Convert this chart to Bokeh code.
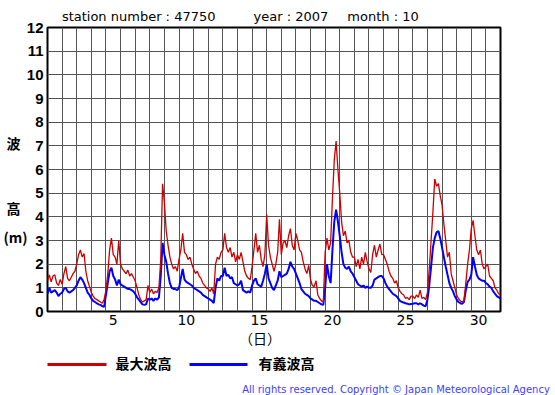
from bokeh.plotting import figure
from bokeh.models import FixedTicker, Range1d, LinearAxis
from bokeh.embed import file_html
from bokeh.resources import INLINE

# ---- data: 3-hourly values, October 2007, station 47750 ----
step_hours = 3
max_wave = [
    1.3, 1.55, 1.25, 1.5, 1.55, 1.2, 1.1, 1.35,      # day 1
    1.15, 1.6, 1.9, 1.4, 1.3, 1.45, 1.6, 1.7,        # day 2
    2.0, 2.4, 2.6, 2.3, 2.45, 1.7, 1.3, 1.05,        # day 3
    0.8, 0.65, 0.55, 0.5, 0.45, 0.4, 0.35, 0.5,      # day 4
    0.9, 1.6, 2.6, 3.1, 2.4, 2.3, 2.0, 3.0,          # day 5
    2.0, 1.8, 1.7, 1.6, 1.75, 1.5, 1.6, 1.45,        # day 6
    1.3, 1.0, 0.7, 0.5, 0.4, 0.45, 0.5, 1.1,         # day 7
    0.8, 0.95, 0.75, 0.85, 0.8, 1.0, 2.2, 5.4,       # day 8
    4.6, 3.4, 2.8, 2.3, 2.0, 1.8, 1.9, 1.7,          # day 9
    2.2, 2.6, 3.3, 2.5, 2.4, 2.2, 2.3, 2.0,          # day 10
    1.8, 1.6, 1.7, 1.5, 1.4, 1.2, 1.1, 1.0,          # day 11
    0.95, 0.85, 1.0, 0.75, 2.0, 2.3, 2.2, 2.5,       # day 12
    2.6, 3.3, 2.7, 2.5, 2.7, 2.3, 2.5, 2.1,          # day 13
    2.4, 2.2, 2.5, 2.1, 1.7, 1.5, 1.4, 1.35,         # day 14
    1.9, 2.6, 3.3, 2.5, 2.8, 2.2, 1.9, 2.4,          # day 15
    4.1, 2.8, 2.3, 2.0, 1.7, 2.0, 2.5, 3.9,          # day 16
    2.4, 2.9, 3.0, 2.7, 3.2, 3.5, 2.8, 2.6,          # day 17
    3.3, 3.0, 2.6, 2.5, 2.1, 1.8, 1.6, 1.95,         # day 18
    1.35, 1.1, 1.05, 1.3, 0.7, 0.55, 0.45, 0.4,      # day 19
    2.5, 3.1, 2.6, 2.9, 4.8, 6.4, 7.2, 6.0,          # day 20
    5.0, 3.8, 3.2, 3.4, 2.9, 3.0, 2.5, 2.3,          # day 21
    2.3, 1.9, 2.2, 1.8, 2.3, 2.0, 2.5, 2.1,          # day 22
    1.8, 1.65, 2.4, 2.8, 2.3, 2.6, 2.85, 2.4,        # day 23
    2.4, 2.2, 2.0, 1.7, 1.5, 1.4, 1.2, 1.3,          # day 24
    1.0, 0.85, 0.75, 0.7, 0.55, 0.6, 0.5, 0.65,      # day 25
    0.65, 0.55, 0.7, 0.6, 0.9, 0.55, 0.6, 0.5,       # day 26
    0.8, 1.8, 3.0, 4.2, 5.6, 5.3, 5.4, 4.9,          # day 27
    4.5, 3.7, 3.0, 2.3, 2.5, 1.6, 1.3, 1.0,          # day 28
    0.7, 0.55, 0.45, 0.4, 0.45, 1.2, 2.0, 2.6,       # day 29
    3.5, 3.85, 3.2, 2.6, 2.4, 2.6, 2.0, 1.8,         # day 30
    1.9, 2.0, 1.5, 1.4, 1.3, 1.0, 0.9, 0.75,         # day 31
    0.7,
]
sig_wave = [
    0.75, 1.0, 0.8, 0.85, 0.9, 0.8, 0.65, 0.75,      # day 1
    0.8, 0.95, 1.0, 0.85, 0.8, 0.85, 0.9, 1.0,       # day 2
    1.1, 1.3, 1.45, 1.35, 1.2, 1.0, 0.8, 0.7,        # day 3
    0.55, 0.45, 0.4, 0.35, 0.3, 0.28, 0.22, 0.2,     # day 4
    0.7, 1.2, 1.7, 1.85, 1.5, 1.35, 1.1, 1.35,       # day 5
    1.15, 1.1, 1.05, 1.0, 0.95, 0.95, 0.9, 0.85,     # day 6
    0.75, 0.6, 0.5, 0.4, 0.3, 0.28, 0.3, 0.55,       # day 7
    0.5, 0.55, 0.45, 0.55, 0.5, 0.6, 1.5, 2.9,       # day 8
    2.4, 2.1, 1.6, 1.2, 1.0, 0.95, 0.95, 0.9,        # day 9
    1.0, 1.4, 1.8, 1.35, 1.25, 1.2, 1.15, 1.1,       # day 10
    1.0, 0.95, 0.9, 0.85, 0.8, 0.7, 0.65, 0.6,       # day 11
    0.55, 0.5, 0.45, 0.35, 1.0, 1.4, 1.3, 1.5,       # day 12
    1.5, 1.85, 1.5, 1.55, 1.4, 1.45, 1.2, 1.15,      # day 13
    1.1, 1.15, 1.3, 0.9, 0.85, 0.8, 0.85, 0.8,       # day 14
    1.1, 1.3, 1.4, 1.15, 1.1, 1.05, 1.3, 1.6,        # day 15
    2.0, 1.4, 1.2, 1.0, 0.9, 1.1, 1.3, 1.7,          # day 16
    1.45, 1.5, 1.55, 1.6, 1.8, 2.1, 1.9, 1.8,        # day 17
    1.6, 1.4, 1.2, 0.95, 0.85, 0.75, 0.7, 0.65,      # day 18
    0.55, 0.5, 0.45, 0.45, 0.4, 0.35, 0.3, 0.28,     # day 19
    1.0, 2.0, 1.5, 1.2, 2.6, 3.8, 4.3, 3.8,          # day 20
    3.2, 2.5, 2.0, 1.85, 1.8, 1.9, 1.7, 1.6,         # day 21
    1.45, 1.3, 1.15, 1.1, 1.05, 1.1, 1.0, 1.05,      # day 22
    1.0, 1.0, 1.1, 1.35, 1.4, 1.45, 1.5, 1.5,        # day 23
    1.4, 1.2, 1.05, 0.95, 0.85, 0.75, 0.7, 0.65,     # day 24
    0.55, 0.45, 0.4, 0.38, 0.35, 0.33, 0.3, 0.32,    # day 25
    0.33, 0.35, 0.35, 0.3, 0.35, 0.3, 0.25, 0.22,    # day 26
    0.5, 1.1, 1.9, 2.7, 3.1, 3.35, 3.4, 3.1,         # day 27
    2.7, 2.3, 1.9, 1.55, 1.2, 1.0, 0.85, 0.65,       # day 28
    0.5, 0.4, 0.35, 0.33, 0.4, 0.9, 1.25, 1.35,      # day 29
    1.55, 2.3, 1.9, 1.55, 1.4, 1.35, 1.3, 1.3,       # day 30
    1.2, 1.15, 1.05, 1.0, 0.85, 0.75, 0.65, 0.6,     # day 31
    0.55,
]
day_ticks = [5, 10, 15, 20, 25, 30]
height_ticks = list(range(0, 13))
series_labels = ["最大波高", "有義波高"]
title_texts = ["station number : 47750", "year : 2007", "month : 10"]
y_title_texts = ["波\u2002", "高\u2002", "(m)"]
x_title_text = "（日）"
copyright_text = "All rights reserved. Copyright \u00a9 Japan Meteorological Agency"

# placement of the text rows / legend keys (in axis units)
title_pos = [6.74, 17.16, 23.46]
y_title_pos = [7.11, 4.38, 3.13]
x_title_pos = [15.05]
legend_label_pos = [7.07, 16.86]
legend_key_spans = [(0.5, 4.54), (10.22, 14.19)]
copyright_pos = [24.35]

# time axis: day d occupies [d-0.5, d+0.5)
xs = [0.5 + i * step_hours / 24.0 for i in range(len(max_wave))]

RED = "#CC0000"
BLUE = "#0000FF"

p = figure(frame_width=453, frame_height=284,
           min_border_left=46, min_border_right=56,
           min_border_top=27, min_border_bottom=84,
           x_range=Range1d(0.5, 31.5), y_range=Range1d(0, 12),
           output_backend="svg", toolbar_location=None)
p.background_fill_color = "white"
p.border_fill_color = "white"
p.outline_line_color = "black"
p.outline_line_width = 2

p.xaxis.ticker = FixedTicker(ticks=day_ticks)
p.yaxis.ticker = FixedTicker(ticks=height_ticks)
p.xgrid.ticker = FixedTicker(ticks=[k + 0.5 for k in range(1, 31)])
p.ygrid.ticker = FixedTicker(ticks=height_ticks)
for g in (p.xgrid, p.ygrid):
    g.grid_line_color = "#555555"
    g.grid_line_width = 1
    g.grid_line_alpha = 1.0


def plain(ax):
    ax.axis_line_color = None
    ax.major_tick_line_color = None
    ax.minor_tick_line_color = None
    ax.major_tick_out = 0
    ax.major_tick_in = 0
    ax.minor_tick_out = 0
    ax.minor_tick_in = 0
    ax.major_label_text_color = "black"
    return ax


def text_axis(ticks, labels):
    return plain(LinearAxis(ticker=FixedTicker(ticks=ticks),
                            major_label_overrides=dict(zip(ticks, labels))))


for ax in (p.xaxis[0], p.yaxis[0]):
    plain(ax)
p.xaxis.major_label_text_font = "DejaVu Sans"
p.xaxis.major_label_text_font_size = "14px"
p.xaxis.major_label_standoff = 3
p.yaxis.major_label_text_font = "Liberation Sans"
p.yaxis.major_label_text_font_size = "15px"
p.yaxis.major_label_text_font_style = "bold"
p.yaxis.major_label_standoff = 4

# title row as a top axis
top_ax = text_axis(title_pos, title_texts)
top_ax.major_label_text_font = "DejaVu Sans"
top_ax.major_label_text_font_size = "13px"
top_ax.major_label_standoff = 4
p.add_layout(top_ax, "above")

# vertical axis title (波 / 高 / (m)) as a second left axis
ylab_ax = text_axis(y_title_pos, y_title_texts)
ylab_ax.major_label_text_font = "Noto Sans CJK JP"
ylab_ax.major_label_text_font_size = "14px"
ylab_ax.major_label_text_font_style = "bold"
ylab_ax.major_label_standoff = -4
p.add_layout(ylab_ax, "left")

# data lines
p.line(xs, sig_wave, line_color=BLUE, line_width=2)
p.line(xs, max_wave, line_color=RED, line_width=1.3)

# x title （日）
xlab_ax = text_axis(x_title_pos, [x_title_text])
xlab_ax.major_label_text_font = "Noto Sans CJK JP"
xlab_ax.major_label_text_font_size = "14px"
xlab_ax.major_label_standoff = 0
p.add_layout(xlab_ax, "below")

# legend row: spacer, two coloured key lines, labels
spacer = text_axis([1.0], [" "])
spacer.major_label_text_font_size = "1px"
spacer.major_label_standoff = 10
p.add_layout(spacer, "below")

for (lo, hi), col in zip(legend_key_spans, [RED, BLUE]):
    key = plain(LinearAxis(ticker=FixedTicker(ticks=[]), bounds=(lo, hi)))
    key.axis_line_color = col
    key.axis_line_width = 3
    key.major_label_standoff = 0
    p.add_layout(key, "below")

leg_txt = text_axis(legend_label_pos, series_labels)
leg_txt.major_label_text_font = "Noto Sans CJK JP"
leg_txt.major_label_text_font_size = "14px"
leg_txt.major_label_text_font_style = "bold"
leg_txt.major_label_standoff = -12
p.add_layout(leg_txt, "below")

# copyright line as a bottom axis
copy_ax = text_axis(copyright_pos, [copyright_text])
copy_ax.major_label_text_font = "DejaVu Sans"
copy_ax.major_label_text_font_size = "10px"
copy_ax.major_label_text_color = "#4040FF"
copy_ax.major_label_standoff = 8
p.add_layout(copy_ax, "below")

open("out.html", "w").write(file_html(p, INLINE))
